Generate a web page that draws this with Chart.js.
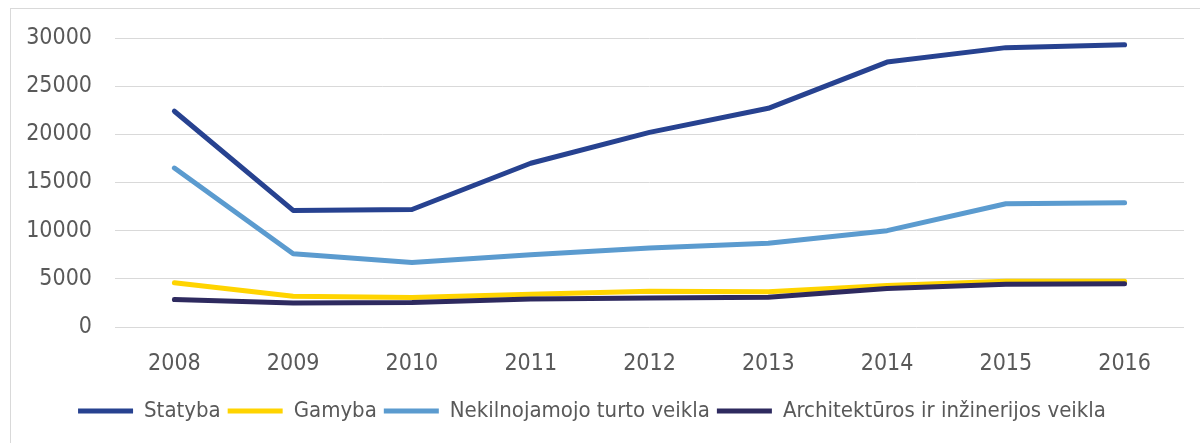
<!DOCTYPE html>
<html>
<head>
<meta charset="utf-8">
<script src="https://cdn.jsdelivr.net/npm/chart.js@4"></script>
<style>
  body { margin: 0; background: #fff; overflow: hidden; }
  .frame { position: absolute; left: 10px; top: 8px; width: 1200px; height: 460px; border: 1px solid #d9d9d9; }
  .wrap { position: absolute; left: 0; top: 0; width: 1200px; height: 443px; }
</style>
</head>
<body>
<div class="frame"></div>
<div class="wrap"><canvas id="chart" width="1200" height="443"></canvas></div>
<script>
const years = ['2008', '2009', '2010', '2011', '2012', '2013', '2014', '2015', '2016'];
const statyba = [22400, 12100, 12200, 17000, 20200, 22700, 27500, 29000, 29300];
const gamyba = [4600, 3200, 3050, 3400, 3700, 3650, 4300, 4750, 4750];
const nekilnojamojo = [16500, 7600, 6700, 7500, 8200, 8700, 10000, 12800, 12900];
const architekturos = [2850, 2500, 2550, 2900, 3000, 3100, 4000, 4450, 4500];

const textColor = '#595959';
const fontFamily = '"DejaVu Sans Condensed", "Liberation Sans", sans-serif';

function line(label, data, color, order) {
  return {
    label: label,
    data: data,
    borderColor: color,
    backgroundColor: color,
    borderWidth: 5,
    borderCapStyle: 'round',
    borderJoinStyle: 'round',
    pointRadius: 0,
    pointHoverRadius: 0,
    tension: 0,
    fill: false,
    order: order
  };
}

const ctx = document.getElementById('chart').getContext('2d');

new Chart(ctx, {
  type: 'line',
  data: {
    labels: years,
    datasets: [
      line('Statyba', statyba, '#274290', 4),
      line('Gamyba', gamyba, '#ffd400', 3),
      line('Nekilnojamojo turto veikla', nekilnojamojo, '#5b9bcf', 2),
      line('Architektūros ir inžinerijos veikla', architekturos, '#2e2a5f', 1)
    ]
  },
  options: {
    responsive: false,
    animation: false,
    layout: { padding: { top: 38, right: 16, bottom: 11, left: 0 } },
    plugins: {
      tooltip: { enabled: false },
      legend: {
        position: 'bottom',
        labels: {
          usePointStyle: true,
          pointStyle: 'line',
          pointStyleWidth: 55,
          padding: 7,
          color: textColor,
          font: { family: fontFamily, size: 22 },
          sort: (a, b) => a.datasetIndex - b.datasetIndex
        }
      }
    },
    scales: {
      x: {
        offset: true,
        grid: { display: false },
        border: { display: false },
        ticks: { color: textColor, padding: 15, font: { family: fontFamily, size: 23 } },
        afterFit: (scale) => { scale.height = 66; }
      },
      y: {
        min: 0,
        max: 30000,
        grid: { color: '#d9d9d9', lineWidth: 1, drawTicks: false },
        border: { display: false },
        ticks: {
          stepSize: 5000,
          color: textColor,
          padding: 23,
          font: { family: fontFamily, size: 23 },
          callback: (value) => String(value)
        },
        afterFit: (scale) => { scale.width = 115; }
      }
    }
  }
});
</script>
</body>
</html>
